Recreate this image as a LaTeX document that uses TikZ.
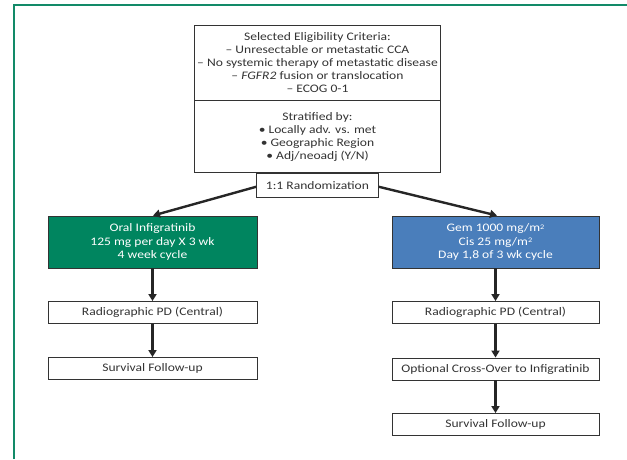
\documentclass[tikz,border=0pt]{standalone}
\usepackage{fontspec}
\setmainfont{Carlito}[FakeStretch=1.18]
\usetikzlibrary{arrows.meta}
\definecolor{framegreen}{HTML}{128A68}
\definecolor{boxgreen}{HTML}{00855F}
\definecolor{boxblue}{HTML}{4A7EBB}
\definecolor{edgegray}{HTML}{333333}
\tikzset{
  box/.style={draw=edgegray, line width=0.9pt, align=center, inner sep=0pt,
    font=\fontsize{11.5}{13.2}\selectfont, text=black!80},
  arr/.style={line width=2.4pt, draw=black!85, -{Triangle[length=7pt,width=8pt]}},
}
\newcommand{\sqm}{\raisebox{0.45ex}{\fontsize{7}{7}\selectfont 2}}
\begin{document}
\begin{tikzpicture}[x=1pt,y=-1pt]
\useasboundingbox (0,0) rectangle (627,459);
% frame
\draw[framegreen, line width=2.6pt] (14,459) -- (14,5) -- (627,5);
% top boxes
\node[box, minimum width=246, minimum height=75] (elig) at (317.5,62.5)
  {Selected Eligibility Criteria:\\
   – Unresectable or metastatic CCA\\
   – No systemic therapy of metastatic disease\\
   – \textit{FGFR2} fusion or translocation\\
   – ECOG 0-1};
\node[box, minimum width=246, minimum height=72, anchor=north] (strat) at (elig.south)
  {Stratified by:\\
   • Locally adv. vs. met\\
   • Geographic Region\\
   • Adj/neoadj (Y/N)};
\node[box, fill=white, minimum width=122, minimum height=24, anchor=north] (rand) at (strat.south)
  {1:1 Randomization};
% arms
\node[box, fill=boxgreen, text=white, minimum width=209, minimum height=52] (inf) at (152.5,242)
  {Oral Infigratinib\\125 mg per day X 3 wk\\4 week cycle};
\node[box, fill=boxblue, text=white, minimum width=207, minimum height=52] (gem) at (495.5,242)
  {Gem 1000 mg/m\sqm\\Cis 25 mg/m\sqm\\Day 1,8 of 3 wk cycle};
\node[box, minimum width=209, minimum height=22] (radL) at (152.5,312.5) {Radiographic PD (Central)};
\node[box, minimum width=209, minimum height=22] (survL) at (152.5,368.5) {Survival Follow-up};
\node[box, minimum width=207, minimum height=22] (radR) at (495.5,312.5) {Radiographic PD (Central)};
\node[box, minimum width=207, minimum height=22] (cross) at (495.5,369) {Optional Cross-Over to Infigratinib};
\node[box, minimum width=207, minimum height=22] (survR) at (495.5,424.5) {Survival Follow-up};
% connectors
\draw[arr] ([yshift=-1]rand.west) -- ([xshift=0.5]inf.north);
\draw[arr] ([yshift=-1]rand.east) -- ([xshift=1.5]gem.north);
\draw[arr] (inf.south) -- (radL.north);
\draw[arr] (radL.south) -- (survL.north);
\draw[arr] (gem.south) -- (radR.north);
\draw[arr] (radR.south) -- (cross.north);
\draw[arr] (cross.south) -- (survR.north);
\end{tikzpicture}
\end{document}
